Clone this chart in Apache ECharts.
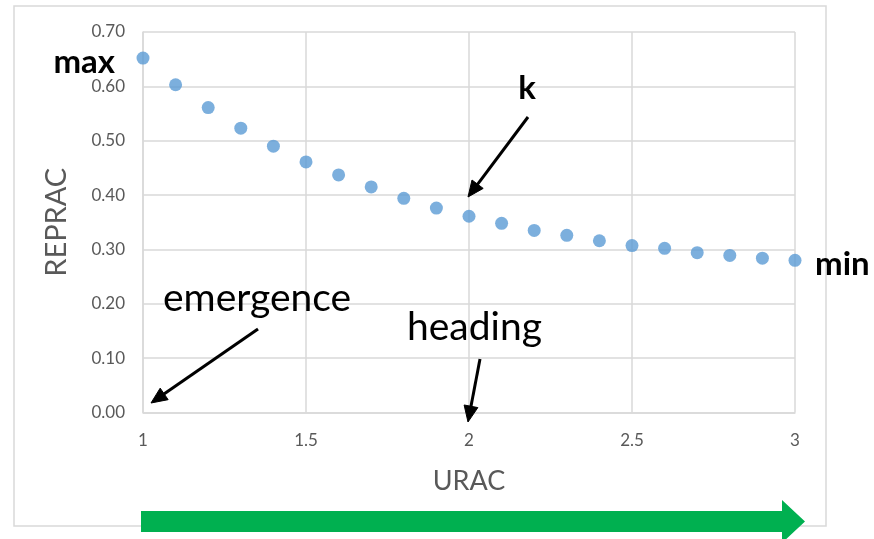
<!DOCTYPE html>
<html>
<head>
<meta charset="utf-8">
<script src="https://cdn.jsdelivr.net/npm/echarts@6/dist/echarts.min.js"></script>
<style>
html,body{margin:0;padding:0;background:#fff;}
#chart{width:874px;height:539px;}
</style>
</head>
<body>
<div id="chart"></div>
<script>
var uracValues = [1.0,1.1,1.2,1.3,1.4,1.5,1.6,1.7,1.8,1.9,2.0,2.1,2.2,2.3,2.4,2.5,2.6,2.7,2.8,2.9,3.0];
var repracValues = [0.652,0.603,0.561,0.523,0.490,0.461,0.437,0.415,0.394,0.376,0.361,0.348,0.335,0.326,0.316,0.307,0.302,0.294,0.289,0.284,0.280];
var xTickLabels = ['1','1.5','2','2.5','3'];
var yTickLabels = ['0.00','0.10','0.20','0.30','0.40','0.50','0.60','0.70'];

var FONT = 'Lato';
var chart = echarts.init(document.getElementById('chart'), null, {renderer:'canvas'});

function arrow(x1,y1,x2,y2,color,w,hl,hw){
  var dx=x2-x1, dy=y2-y1, L=Math.sqrt(dx*dx+dy*dy), ux=dx/L, uy=dy/L;
  var bx=x2-ux*hl, by=y2-uy*hl, px=-uy, py=ux;
  return [
    {type:'line', z:10, shape:{x1:x1,y1:y1,x2:bx+ux*2,y2:by+uy*2}, style:{stroke:color,lineWidth:w}},
    {type:'polygon', z:10, shape:{points:[[x2,y2],[bx+px*hw/2,by+py*hw/2],[bx-px*hw/2,by-py*hw/2]]}, style:{fill:color,stroke:color,lineWidth:1}}
  ];
}

var graphics = [
  {type:'rect', z:-1, shape:{x:14,y:6,width:812,height:520}, style:{fill:null,stroke:'#d9d9d9',lineWidth:1.5}},
  {type:'text', z:10, style:{x:115,y:62,text:'max',fill:'#000',font:'bold 33px '+FONT,textAlign:'right',textVerticalAlign:'middle'}},
  {type:'text', z:10, style:{x:815,y:264,text:'min',fill:'#000',font:'bold 33px '+FONT,textAlign:'left',textVerticalAlign:'middle'}},
  {type:'text', z:10, style:{x:527,y:88,text:'k',fill:'#000',font:'bold 33px '+FONT,textAlign:'center',textVerticalAlign:'middle'}},
  {type:'text', z:10, style:{x:163,y:298,text:'emergence',fill:'#000',font:'39px '+FONT,textAlign:'left',textVerticalAlign:'middle'}},
  {type:'text', z:10, style:{x:407,y:327,text:'heading',fill:'#000',font:'39px '+FONT,textAlign:'left',textVerticalAlign:'middle'}},
  {type:'polygon', z:10, shape:{points:[[141,511],[782,511],[782,500],[805,521.5],[782,543],[782,532],[141,532]]}, style:{fill:'#00b050'}}
];
graphics = graphics.concat(arrow(258,329,151,403,'#000',3,16,14));
graphics = graphics.concat(arrow(528,117,468,197,'#000',3,16,14));
graphics = graphics.concat(arrow(480,359,468,422,'#000',3,16,14));

chart.setOption({
  animation:false,
  backgroundColor:'#fff',
  grid:{left:143,right:79,top:32,bottom:126.5,containLabel:false},
  xAxis:{
    type:'value', min:1, max:3, interval:0.5,
    name:'URAC', nameLocation:'middle', nameGap:55,
    nameTextStyle:{color:'#595959',fontSize:27,fontFamily:FONT},
    axisLine:{show:true,lineStyle:{color:'#d9d9d9',width:1.5}},
    axisTick:{show:false},
    axisLabel:{color:'#595959',fontSize:17,fontFamily:FONT,margin:20,
      formatter:function(v){var i=Math.round((v-1)/0.5);return xTickLabels[i];}},
    splitLine:{show:true,lineStyle:{color:'#d9d9d9',width:1.5}}
  },
  yAxis:{
    type:'value', min:0, max:0.7, interval:0.1,
    name:'REPRAC', nameLocation:'middle', nameGap:72,
    nameTextStyle:{color:'#595959',fontSize:29,fontFamily:FONT},
    axisLine:{show:true,lineStyle:{color:'#d9d9d9',width:1.5}},
    axisTick:{show:false},
    axisLabel:{color:'#595959',fontSize:17,fontFamily:FONT,margin:18,
      formatter:function(v){return yTickLabels[Math.round(v*10)];}},
    splitLine:{show:true,lineStyle:{color:'#d9d9d9',width:1.5}}
  },
  series:[{
    type:'scatter',
    symbol:'circle', symbolSize:13,
    itemStyle:{color:'#5b9bd5'},
    data:uracValues.map(function(x,i){return [x,repracValues[i]];}),
    clip:false
  }],
  graphic:graphics
});
</script>
</body>
</html>
